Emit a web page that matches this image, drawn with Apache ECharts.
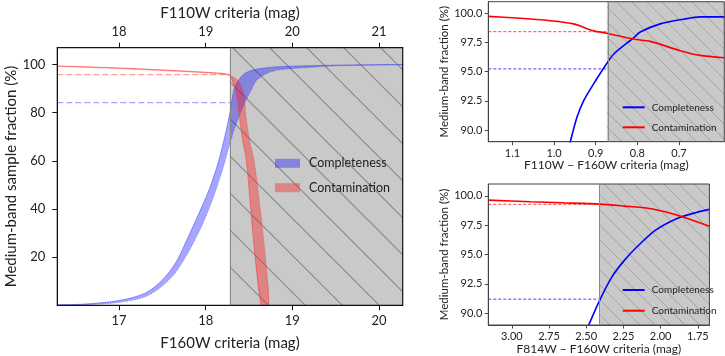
<!DOCTYPE html>
<html>
<head>
<meta charset="utf-8">
<script src="https://cdn.jsdelivr.net/npm/echarts@6/dist/echarts.min.js"></script>
<style>html,body{margin:0;padding:0;background:#fff}#c{width:725px;height:356px}</style>
</head>
<body>
<div id="c"></div>
<script>
// ---------- tick labels ----------
const f160Ticks = [17, 18, 19, 20];
const f110Ticks = [18, 19, 20, 21];
const fracTicksLeft = [20, 40, 60, 80, 100];
const colorTicksTop = [0.7, 0.8, 0.9, 1.0, 1.1];
const colorTicksBot = [1.75, 2.0, 2.25, 2.5, 2.75, 3.0];
const fracTicksRight = [90, 92.5, 95, 97.5, 100];

// ---------- left panel: magnitude criteria ----------
const magCut = 18.277;
const complThreshLeft = 84.2;
const contThreshLeft = 95.8;
const complUpperMag  = [16.29, 16.6, 17.0, 17.3, 17.5, 17.66, 17.78, 17.92, 18.05, 18.15, 18.22, 18.28, 18.33, 18.4, 18.46, 18.58, 18.8, 19.2, 19.6, 20.28];
const complUpperFrac = [0.2, 0.5, 2.0, 5.0, 10.5, 18, 27, 38, 49, 60, 70, 80, 90, 94.5, 96.5, 98, 99, 99.5, 99.8, 100];
const complLowerMag  = [16.29, 16.6, 17.0, 17.3, 17.5, 17.66, 17.83, 17.98, 18.1, 18.2, 18.27, 18.32, 18.38, 18.45, 18.52, 18.59, 18.7, 18.85, 19.24, 19.55, 20.28];
const complLowerFrac = [0.0, 0.2, 1.2, 3.5, 8, 14, 24, 35, 46, 57, 66, 72, 78, 84, 89, 93.5, 96.2, 97.8, 98.9, 99.5, 99.9];
const contUpperMag   = [16.29, 17.0, 17.7, 18.0, 18.2, 18.27, 18.31, 18.35, 18.39, 18.43, 18.47, 18.52, 18.57, 18.64];
const contUpperFrac  = [99.4, 98.6, 97.4, 96.8, 96.3, 95.7, 93, 88, 78, 68, 60, 40, 20, 0];
const contLowerMag   = [16.29, 17.0, 17.7, 18.0, 18.2, 18.3, 18.38, 18.44, 18.47, 18.51, 18.56, 18.63, 18.69, 18.73];
const contLowerFrac  = [99.2, 98.3, 97.1, 96.5, 96.0, 95.2, 93, 88, 77, 68, 60, 40, 20, 0];

// ---------- top-right panel: F110W - F160W ----------
const colorCutTop = 0.873;
const complThreshTop = 95.24;
const contThreshTop = 98.43;
const topComplColor = [0.966, 0.961, 0.945, 0.929, 0.905, 0.881, 0.857, 0.809, 0.793, 0.745, 0.689, 0.649, 0.59];
const topComplFrac  = [88.3, 89.0, 91.1, 92.5, 93.95, 95.3, 96.5, 97.9, 98.4, 99.1, 99.5, 99.7, 99.7];
const topContColor  = [1.158, 1.09, 1.009, 0.953, 0.905, 0.873, 0.809, 0.769, 0.697, 0.649, 0.591];
const topContFrac   = [99.74, 99.6, 99.37, 99.1, 98.5, 98.3, 97.8, 97.6, 96.8, 96.4, 96.2];

// ---------- bottom-right panel: F814W - F160W ----------
const colorCutBot = 2.411;
const complThreshBot = 91.2;
const contThreshBot = 99.27;
const botComplColor = [2.50, 2.485, 2.41, 2.328, 2.244, 2.16, 2.034, 1.889, 1.76, 1.672];
const botComplFrac  = [88.5, 88.95, 91.1, 93.08, 94.5, 95.64, 97.07, 98.07, 98.58, 98.84];
const botContColor  = [3.158, 2.874, 2.664, 2.41, 2.244, 2.076, 1.97, 1.84, 1.672];
const botContFrac   = [99.63, 99.49, 99.4, 99.29, 99.12, 98.92, 98.63, 98.15, 97.4];

// ---------- styling ----------
const FONT = 'Lato';
const TXT = '#222';
const blueFill = 'rgba(20,20,255,0.38)';
const redFill = 'rgba(255,20,20,0.38)';

function hatch(size, bg, line, lw) {
  const c = document.createElement('canvas');
  c.width = size; c.height = size;
  const g = c.getContext('2d');
  g.fillStyle = bg; g.fillRect(0, 0, size, size);
  g.strokeStyle = line; g.lineWidth = lw;
  for (const k of [-size, 0, size]) {
    g.beginPath(); g.moveTo(k, 0); g.lineTo(k + size, size); g.stroke();
  }
  return c;
}
const hatchBig = hatch(37, '#c9c9c9', '#8a8a8a', 1.2);
const hatchSmall = hatch(15, '#c9c9c9', '#999999', 0.8);

function pairs(xs, ys) { return xs.map((x, i) => [x, ys[i]]); }

function bandRender(ux, uy, lx, ly, fill, edgeSolid, edgeDot) {
  return function (params, api) {
    const up = ux.map((x, i) => api.coord([x, uy[i]]));
    const lo = lx.map((x, i) => api.coord([x, ly[i]]));
    return {
      type: 'group',
      children: [
        { type: 'polygon', shape: { points: up.concat(lo.slice().reverse()), smooth: 0.3 }, style: { fill: fill } },
        { type: 'polyline', shape: { points: up, smooth: 0.3 }, style: { stroke: edgeSolid, lineWidth: 1, fill: null } },
        { type: 'polyline', shape: { points: lo, smooth: 0.3 }, style: { stroke: edgeDot, lineWidth: 0.9, lineDash: [1, 1.5], fill: null } }
      ]
    };
  };
}

function shadeSeries(xi, yi, from, to, img) {
  return {
    type: 'line', xAxisIndex: xi, yAxisIndex: yi, z: 1, data: [], silent: true,
    symbol: 'none',
    markArea: { silent: true, itemStyle: { color: { image: img, repeat: 'repeat' } },
      data: [[{ xAxis: from }, { xAxis: to }]] },
    markLine: { silent: true, symbol: ['none', 'none'], label: { show: false },
      lineStyle: { color: '#8a8a8a', type: 'solid', width: 1 },
      data: [{ xAxis: from }] }
  };
}

function lineSeries(name, xi, yi, data, color, width, dash, z) {
  return {
    name: name, type: 'line', xAxisIndex: xi, yAxisIndex: yi, data: data, z: z || 3,
    symbol: 'none', smooth: dash ? false : 0.25, silent: true,
    lineStyle: { color: color, width: width, type: dash || 'solid' },
    itemStyle: { color: color }
  };
}

function axisCommon(ticks, fontSize, margin, tickLen, fmt, lineColor) {
  return {
    type: 'value',
    axisLine: { show: true, onZero: false, lineStyle: { color: lineColor, width: 1 } },
    splitLine: { show: false },
    axisTick: { show: true, customValues: ticks, length: tickLen, lineStyle: { color: lineColor } },
    axisLabel: { customValues: ticks, fontSize: fontSize, margin: margin, color: TXT, fontFamily: FONT,
      formatter: fmt || (v => String(v)) },
    nameTextStyle: { color: TXT, fontFamily: FONT }
  };
}

const option = {
  animation: false,
  backgroundColor: '#fff',
  textStyle: { fontFamily: FONT },
  grid: [
    { left: 57.3, top: 47.7, width: 345.4, height: 257.6, show: true, borderColor: '#111', borderWidth: 1.2, backgroundColor: 'transparent', z: 5 },
    { left: 488.3, top: 1.7, width: 236, height: 140, show: true, borderColor: '#444', borderWidth: 1, backgroundColor: 'transparent', z: 5 },
    { left: 488.3, top: 184, width: 236, height: 141, show: true, borderColor: '#444', borderWidth: 1, backgroundColor: 'transparent', z: 5 }
  ],
  xAxis: [
    Object.assign(axisCommon(f160Ticks, 13, 9, 5, null, '#111'), {
      gridIndex: 0, position: 'bottom', min: 16.288, max: 20.273,
      name: 'F160W criteria (mag)', nameLocation: 'middle', nameGap: 30,
      nameTextStyle: { fontSize: 15, color: TXT, fontFamily: FONT } }),
    Object.assign(axisCommon(f110Ticks, 13, 9, 5, null, '#111'), {
      gridIndex: 0, position: 'top', min: 17.288, max: 21.273,
      name: 'F110W criteria (mag)', nameLocation: 'middle', nameGap: 27,
      nameTextStyle: { fontSize: 15, color: TXT, fontFamily: FONT } }),
    Object.assign(axisCommon(colorTicksTop, 11, 6, 3.5, v => v.toFixed(1), '#444'), {
      gridIndex: 1, position: 'bottom', min: 0.591, max: 1.158, inverse: true,
      name: 'F110W \u2212 F160W criteria (mag)', nameLocation: 'middle', nameGap: 17,
      nameTextStyle: { fontSize: 12, color: TXT, fontFamily: FONT } }),
    Object.assign(axisCommon(colorTicksBot, 11, 6, 3.5, v => v.toFixed(2), '#444'), {
      gridIndex: 2, position: 'bottom', min: 1.672, max: 3.158, inverse: true,
      name: 'F814W \u2212 F160W criteria (mag)', nameLocation: 'middle', nameGap: 18,
      nameTextStyle: { fontSize: 12, color: TXT, fontFamily: FONT } })
  ],
  yAxis: [
    Object.assign(axisCommon(fracTicksLeft, 13, 12, 5, null, '#111'), {
      gridIndex: 0, min: 0, max: 107,
      name: 'Medium-band sample fraction (%)', nameLocation: 'middle', nameGap: 38,
      nameTextStyle: { fontSize: 15, color: TXT, fontFamily: FONT } }),
    Object.assign(axisCommon(fracTicksRight, 11, 6, 3.5, v => v.toFixed(1), '#444'), {
      gridIndex: 1, min: 89, max: 101,
      name: 'Medium-band fraction (%)', nameLocation: 'middle', nameGap: 36,
      nameTextStyle: { fontSize: 11.5, color: TXT, fontFamily: FONT } }),
    Object.assign(axisCommon(fracTicksRight, 11, 6, 3.5, v => v.toFixed(1), '#444'), {
      gridIndex: 2, min: 89, max: 101,
      name: 'Medium-band fraction (%)', nameLocation: 'middle', nameGap: 36,
      nameTextStyle: { fontSize: 11.5, color: TXT, fontFamily: FONT } })
  ],
  legend: [
    { left: 275, top: 156.3, orient: 'vertical', padding: 0, itemWidth: 25, itemHeight: 9, itemGap: 10.4,
      selectedMode: false, textStyle: { fontSize: 12.5, color: TXT, fontFamily: FONT, lineHeight: 14, padding: [0, 0, 0, 4] },
      data: [{ name: 'Completeness', icon: 'rect', itemStyle: { color: blueFill } },
             { name: 'Contamination', icon: 'rect', itemStyle: { color: redFill } }] },
    { left: 622.7, top: 101.3, orient: 'vertical', padding: 0, itemWidth: 22, itemHeight: 2, itemGap: 8,
      selectedMode: false, textStyle: { fontSize: 10, color: TXT, fontFamily: FONT, lineHeight: 12, padding: [0, 0, 0, 2] },
      data: [{ name: 'Completeness', icon: 'rect', itemStyle: { color: '#0000ff' } },
             { name: 'Contamination', icon: 'rect', itemStyle: { color: '#ff0000' } }] },
    { left: 622.7, top: 284, orient: 'vertical', padding: 0, itemWidth: 22, itemHeight: 2, itemGap: 8.7,
      selectedMode: false, textStyle: { fontSize: 10, color: TXT, fontFamily: FONT, lineHeight: 12, padding: [0, 0, 0, 2] },
      data: [{ name: 'Completeness', icon: 'rect', itemStyle: { color: '#0000ff' } },
             { name: 'Contamination', icon: 'rect', itemStyle: { color: '#ff0000' } }] }
  ],
  series: [
    // left panel
    shadeSeries(0, 0, magCut, 20.273, hatchBig),
    { name: 'Completeness', type: 'custom', xAxisIndex: 0, yAxisIndex: 0, z: 3, clip: true, silent: true,
      data: [[complUpperMag[0], complUpperFrac[0]]], itemStyle: { color: blueFill },
      renderItem: bandRender(complUpperMag, complUpperFrac, complLowerMag, complLowerFrac, blueFill,
        'rgba(70,70,255,0.55)', 'rgba(50,50,235,0.6)') },
    { name: 'Contamination', type: 'custom', xAxisIndex: 0, yAxisIndex: 0, z: 4, clip: true, silent: true,
      data: [[contUpperMag[0], contUpperFrac[0]]], itemStyle: { color: redFill },
      renderItem: bandRender(contUpperMag, contUpperFrac, contLowerMag, contLowerFrac, redFill,
        'rgba(255,70,70,0.65)', 'rgba(235,50,50,0.6)') },
    lineSeries('complThreshLeft', 0, 0, [[16.288, complThreshLeft], [magCut, complThreshLeft]], 'rgba(90,90,255,0.55)', 1.2, [6, 3]),
    lineSeries('contThreshLeft', 0, 0, [[16.288, contThreshLeft], [magCut, contThreshLeft]], 'rgba(255,90,90,0.6)', 1.2, [6, 3]),

    // top-right panel
    shadeSeries(2, 1, colorCutTop, 0.591, hatchSmall),
    lineSeries('complThreshTop', 2, 1, [[1.158, complThreshTop], [colorCutTop, complThreshTop]], '#3030ff', 0.9, [3, 2]),
    lineSeries('contThreshTop', 2, 1, [[1.158, contThreshTop], [colorCutTop, contThreshTop]], '#ff3030', 0.9, [3, 2]),
    lineSeries('Completeness', 2, 1, pairs(topComplColor, topComplFrac), '#0000ff', 1.6),
    lineSeries('Contamination', 2, 1, pairs(topContColor, topContFrac), '#ff0000', 1.6),

    // bottom-right panel
    shadeSeries(3, 2, colorCutBot, 1.672, hatchSmall),
    lineSeries('complThreshBot', 3, 2, [[3.158, complThreshBot], [colorCutBot, complThreshBot]], '#3030ff', 0.9, [3, 2]),
    lineSeries('contThreshBot', 3, 2, [[3.158, contThreshBot], [colorCutBot, contThreshBot]], '#ff3030', 0.9, [3, 2]),
    lineSeries('Completeness', 3, 2, pairs(botComplColor, botComplFrac), '#0000ff', 1.6),
    lineSeries('Contamination', 3, 2, pairs(botContColor, botContFrac), '#ff0000', 1.6)
  ]
};

const chart = echarts.init(document.getElementById('c'), null, { renderer: 'canvas' });
chart.setOption(option);
</script>
</body>
</html>
